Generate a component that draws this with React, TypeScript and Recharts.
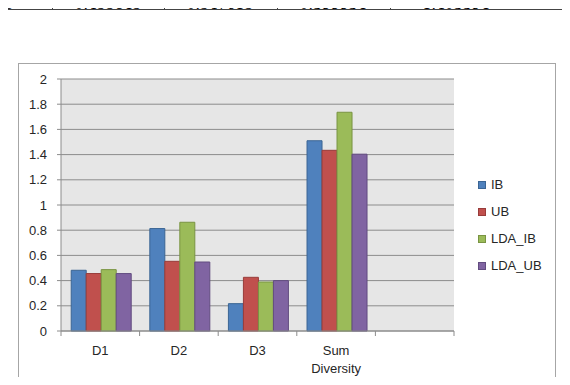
import { BarChart, Bar, XAxis, YAxis, CartesianGrid } from "recharts";

// categories along the x axis (last slot is left empty)
const categories = ["D1", "D2", "D3", "Sum Diversity", ""];

// series values per category
const ibValues = [0.482, 0.813, 0.217, 1.51, null];
const ubValues = [0.456, 0.553, 0.426, 1.434, null];
const ldaIbValues = [0.487, 0.863, 0.389, 1.736, null];
const ldaUbValues = [0.455845, 0.547615, 0.399934, 1.403394, null];

const yTicks = [0, 0.2, 0.4, 0.6, 0.8, 1, 1.2, 1.4, 1.6, 1.8, 2];

const series = [
  { key: "IB", fill: "#4F81BD", stroke: "#3B6594" },
  { key: "UB", fill: "#C0504D", stroke: "#983C3A" },
  { key: "LDA_IB", fill: "#9BBB59", stroke: "#799442" },
  { key: "LDA_UB", fill: "#8064A2", stroke: "#624C80" },
];

const data = categories.map((name, i) => ({
  name,
  IB: ibValues[i],
  UB: ubValues[i],
  LDA_IB: ldaIbValues[i],
  LDA_UB: ldaUbValues[i],
}));

const FONT = "'Liberation Sans', Arial, sans-serif";
const PLOT_LEFT = 61;
const PLOT_RIGHT = 454;
const BAND = (PLOT_RIGHT - PLOT_LEFT) / categories.length;

const CategoryTick = (props: any) => {
  const { x, y, payload, index } = props;
  const words = String(payload.value).split(" ").filter(Boolean);
  const left = x - BAND / 2;
  return (
    <g>
      <line x1={left} x2={left} y1={y} y2={y + 5} stroke="#8c8c8c" />
      {index === categories.length - 1 && (
        <line x1={x + BAND / 2} x2={x + BAND / 2} y1={y} y2={y + 5} stroke="#8c8c8c" />
      )}
      <text x={x} y={y + 24} textAnchor="middle" fill="#262626" fontSize={13} fontFamily={FONT}>
        {words.map((w, i) => (
          <tspan key={w} x={x} dy={i === 0 ? 0 : 18}>
            {w}
          </tspan>
        ))}
      </text>
    </g>
  );
};

// bottom edge of the table row sitting above the chart
const tableCells = [
  { text: "LDA_UB", x: 13, anchor: "end" },
  { text: String(ldaUbValues[0]), x: 108, anchor: "middle" },
  { text: String(ldaUbValues[1]), x: 220, anchor: "middle" },
  { text: String(ldaUbValues[2]), x: 333, anchor: "middle" },
  { text: String(ldaUbValues[3]), x: 456, anchor: "middle" },
];
const tableDividers = [52, 164, 277, 390];

export default function App() {
  return (
    <div
      style={{
        position: "relative",
        width: 570,
        height: 385,
        margin: -8,
        overflow: "hidden",
        background: "#fff",
      }}
    >
      <div
        style={{
          position: "absolute",
          left: 18,
          top: 63,
          width: 538,
          height: 340,
          border: "1px solid #a6a6a6",
          boxSizing: "border-box",
        }}
      />

      <div style={{ position: "absolute", left: 0, top: 0 }}>
        <BarChart
          width={570}
          height={385}
          data={data}
          margin={{ top: 79, right: 116, bottom: 24, left: 21 }}
          barCategoryGap="13%"
          barGap={0}
        >
          <CartesianGrid vertical={false} fill="#e6e6e6" stroke="#8c8c8c" fillOpacity={1} />
          <XAxis
            dataKey="name"
            height={30}
            axisLine={{ stroke: "#8c8c8c" }}
            tickLine={false}
            tickSize={0}
            tickMargin={0}
            interval={0}
            tick={<CategoryTick />}
          />
          <YAxis
            width={40}
            domain={[0, 2]}
            ticks={yTicks}
            interval={0}
            axisLine={{ stroke: "#8c8c8c" }}
            tickLine={{ stroke: "#8c8c8c" }}
            tickSize={4}
            tickMargin={10}
            tick={{ fill: "#262626", fontSize: 13, fontFamily: FONT }}
          />
          {series.map((s) => (
            <Bar
              key={s.key}
              dataKey={s.key}
              fill={s.fill}
              stroke={s.stroke}
              strokeWidth={1}
              isAnimationActive={false}
            />
          ))}
        </BarChart>
      </div>

      <div style={{ position: "absolute", left: 478, top: 171, fontFamily: FONT, fontSize: 13, color: "#262626" }}>
        {series.map((s) => (
          <div key={s.key} style={{ display: "flex", alignItems: "center", height: 27 }}>
            <span
              style={{
                width: 8,
                height: 8,
                background: s.fill,
                border: `1px solid ${s.stroke}`,
                boxSizing: "border-box",
                marginRight: 5,
              }}
            />
            {s.key}
          </div>
        ))}
      </div>

      <svg width={570} height={12} style={{ position: "absolute", left: 0, top: 0, zIndex: 2, overflow: "hidden" }}>
        {tableCells.map((c) => (
          <text
            key={c.text}
            x={c.x}
            y={9}
            textAnchor={c.anchor as any}
            fontFamily="'DejaVu Serif', serif"
            fontSize={14}
            fill="#000"
          >
            {c.text}
          </text>
        ))}
        {tableDividers.map((x) => (
          <line key={x} x1={x + 0.5} x2={x + 0.5} y1={0} y2={9} stroke="#444" />
        ))}
        <line x1={0} x2={570} y1={9.5} y2={9.5} stroke="#444" />
      </svg>
    </div>
  );
}
